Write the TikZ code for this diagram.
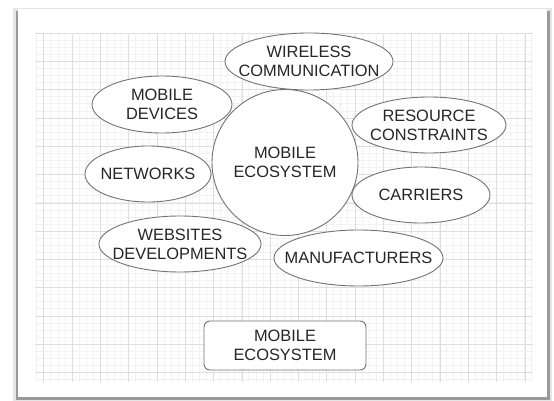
\documentclass[tikz,border=0pt]{standalone}
\usepackage{fontspec}
\setmainfont{Liberation Sans}
\usetikzlibrary{shapes,calc}
\tikzstyle{minorgrid}=[draw=black!5, line width=0.5pt]
\tikzstyle{majorgrid}=[draw=black!13, line width=0.5pt]
\tikzstyle{caption}=[align=center,
                     text=black!85,
                     font=\fontsize{16.4}{19}\selectfont]
\tikzstyle{topic}=[ellipse,
                   draw=black!55,
                   line width=0.9pt,
                   fill=white,
                   inner sep=0pt]
\tikzstyle{hub}=[circle,
                 draw=black!55,
                 line width=0.9pt,
                 fill=white,
                 inner sep=0pt,
                 minimum size=146pt]
\tikzstyle{legend}=[rectangle, draw=black!55, line width=0.9pt, fill=white,
rounded corners=6pt, minimum width=162pt, minimum height=49pt]

\begin{document}
\begin{tikzpicture}[x=1pt,y=-1pt]
      \useasboundingbox (0,0) rectangle (554,401);

      % sheet with its shadow
      \fill[black!10] (13,8) rectangle (552,401);
      \fill[black!40] (16,11) rectangle (550,400);
      \fill[white] (18,9) rectangle (547,397);

      % grid
      \foreach \i in {0,...,70}
        \draw[minorgrid] ({36.6+7.07*\i},33) -- ({36.6+7.07*\i},382);
      \foreach \j in {0,...,49}
        \draw[minorgrid] (35,{33+7.07*\j}) -- (533,{33+7.07*\j});
      \foreach \i in {0,...,17}
        \draw[majorgrid] ({43.7+28.3*\i},33) -- ({43.7+28.3*\i},382);
      \foreach \j in {0,...,12}
        \draw[majorgrid] (35,{33+28.3*\j}) -- (533,{33+28.3*\j});

      \node [hub, label={[caption]center:MOBILE\\ECOSYSTEM}] (eco) at (285,162.5) {};

      \node [topic, minimum width=168pt, minimum height=57pt,
             label={[caption]center:WIRELESS\\COMMUNICATION}] (wireless) at (309,61.5) {};
      \node [topic, minimum width=140pt, minimum height=57pt,
             label={[caption]center:MOBILE\\DEVICES}] (devices) at (162,104.5) {};
      \node [topic, minimum width=154pt, minimum height=56pt,
             label={[caption]center:RESOURCE\\CONSTRAINTS}] (resources) at (429,125) {};
      \node [topic, minimum width=126pt, minimum height=56pt,
             label={[caption]center:NETWORKS}] (networks) at (148,174) {};
      \node [topic, minimum width=138pt, minimum height=56pt,
             label={[caption]center:CARRIERS}] (carriers) at (421,195) {};
      \node [topic, minimum width=162pt, minimum height=56pt,
             label={[caption]center:WEBSITES\\DEVELOPMENTS}] (websites) at (180,244) {};
      \node [topic, minimum width=169pt, minimum height=56pt,
             label={[caption]center:MANUFACTURERS}] (makers) at (358.5,258) {};

      \node [legend, caption] (key) at (285,345.5) {MOBILE\\ECOSYSTEM};
\end{tikzpicture}
\end{document}
